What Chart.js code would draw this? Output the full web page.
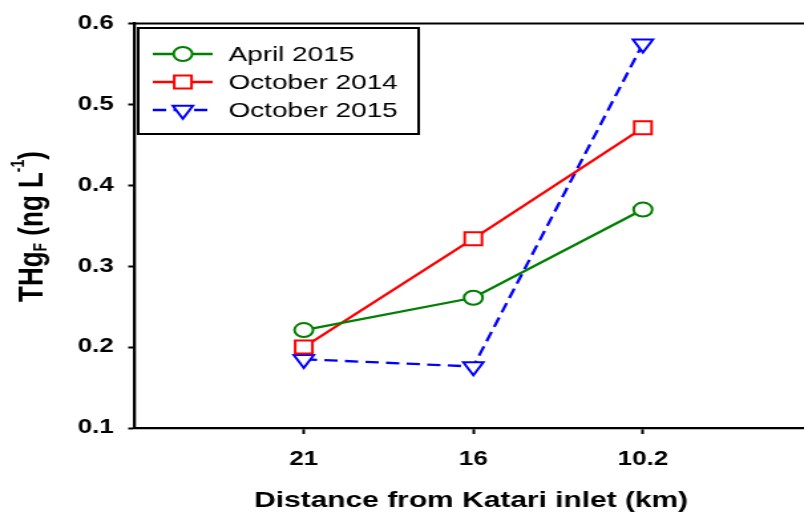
<!DOCTYPE html>
<html lang="en">

<head>
    <meta charset="UTF-8">
    <title>THgF along the Katari inlet</title>
    <script src="https://cdn.jsdelivr.net/npm/chart.js@4.4.0/dist/chart.umd.min.js"></script>
    <style>
        * {
            margin: 0;
            padding: 0;
            box-sizing: border-box;
        }

        body {
            background: white;
            overflow: hidden;
        }

        #thgChart {
            display: block;
        }
    </style>
</head>

<body>
    <!-- the source figure is stretched sideways, so the canvas is drawn 605 wide and shown 804 wide -->
    <canvas id="thgChart" width="605" height="513" style="width: 804px; height: 513px;"></canvas>

    <script>
        // Data
        const categories = ['21', '16', '10.2'];
        const xPositions = [1, 2, 3];
        const april2015 = [0.221, 0.261, 0.370];
        const october2014 = [0.200, 0.334, 0.471];
        const october2015 = [0.185, 0.176, 0.575];
        const yTicks = [0.1, 0.2, 0.3, 0.4, 0.5, 0.6];
        const yTickLabels = ['0.1', '0.2', '0.3', '0.4', '0.5', '0.6'];

        const FONT = "'Liberation Sans', Arial, Helvetica, sans-serif";

        function toPoints(values) {
            return values.map((v, i) => ({ x: xPositions[i], y: v }));
        }

        // Marker drawing for the legend (same shapes as the chart points)
        function drawMarker(ctx, style, x, y, r) {
            ctx.beginPath();
            if (style === 'circle') {
                ctx.arc(x, y, r, 0, Math.PI * 2);
            } else if (style === 'rect') {
                const s = r * Math.SQRT1_2;
                ctx.rect(x - s, y - s, 2 * s, 2 * s);
            } else {
                // triangle pointing down
                const w = r * Math.sin(Math.PI / 3);
                ctx.moveTo(x, y + r);
                ctx.lineTo(x - w, y - r / 2);
                ctx.lineTo(x + w, y - r / 2);
                ctx.closePath();
            }
            ctx.fill();
            ctx.stroke();
        }

        // Frame top line, boxed legend and axis titles
        const extrasPlugin = {
            id: 'extras',
            afterDraw(chart) {
                const ctx = chart.ctx;
                const area = chart.chartArea;
                ctx.save();

                // top frame line
                ctx.strokeStyle = '#000';
                ctx.lineWidth = 2;
                ctx.beginPath();
                ctx.moveTo(area.left, area.top);
                ctx.lineTo(area.right, area.top);
                ctx.stroke();

                // legend box
                const box = { left: 104, top: 28, right: 315, bottom: 134 };
                ctx.fillStyle = '#fff';
                ctx.fillRect(box.left, box.top, box.right - box.left, box.bottom - box.top);
                ctx.lineWidth = 2;
                ctx.strokeRect(box.left, box.top, box.right - box.left, box.bottom - box.top);

                const rows = [54, 82, 110];
                chart.data.datasets.forEach((ds, i) => {
                    const y = rows[i];
                    ctx.strokeStyle = ds.borderColor;
                    ctx.lineWidth = ds.borderWidth;
                    ctx.setLineDash(ds.borderDash || []);
                    ctx.beginPath();
                    ctx.moveTo(115, y);
                    ctx.lineTo(160, y);
                    ctx.stroke();
                    ctx.setLineDash([]);
                    ctx.fillStyle = '#fff';
                    ctx.lineWidth = ds.pointBorderWidth;
                    drawMarker(ctx, ds.pointStyle, 137.6, y, ds.pointRadius);

                    ctx.fillStyle = '#000';
                    ctx.font = '21px ' + FONT;
                    ctx.textAlign = 'left';
                    ctx.textBaseline = 'middle';
                    ctx.fillText(ds.label, 172, y + 1);
                });

                // x axis title
                ctx.fillStyle = '#000';
                ctx.font = 'bold 22.5px ' + FONT;
                ctx.textAlign = 'center';
                ctx.textBaseline = 'alphabetic';
                ctx.fillText('Distance from Katari inlet (km)', 354.5, 506.5);

                // y axis title with subscript and superscript
                const parts = [
                    { t: 'THg', size: 26, dy: 0 },
                    { t: 'F', size: 14, dy: 3 },
                    { t: ' (ng L', size: 26, dy: 0 },
                    { t: '-1', size: 14, dy: -14 },
                    { t: ')', size: 26, dy: 0 }
                ];
                let total = 0;
                parts.forEach(p => {
                    ctx.font = 'bold ' + p.size + 'px ' + FONT;
                    p.w = ctx.measureText(p.t).width;
                    total += p.w;
                });
                ctx.translate(31.5, 226.5);
                ctx.rotate(-Math.PI / 2);
                ctx.textAlign = 'left';
                let cx = -total / 2;
                parts.forEach(p => {
                    ctx.font = 'bold ' + p.size + 'px ' + FONT;
                    ctx.fillText(p.t, cx, p.dy);
                    cx += p.w;
                });

                ctx.restore();
            }
        };

        function initializeChart() {
            const ctx = document.getElementById('thgChart').getContext('2d');
            new Chart(ctx, {
                type: 'line',
                data: {
                    datasets: [
                        {
                            label: 'April 2015',
                            data: toPoints(april2015),
                            borderColor: '#008000',
                            borderWidth: 2.3,
                            pointStyle: 'circle',
                            pointRadius: 7,
                            pointBorderWidth: 2,
                            pointBackgroundColor: '#fff',
                            pointBorderColor: '#008000'
                        },
                        {
                            label: 'October 2014',
                            data: toPoints(october2014),
                            borderColor: '#ff0000',
                            borderWidth: 2.3,
                            pointStyle: 'rect',
                            pointRadius: 9.2,
                            pointBorderWidth: 2,
                            pointBackgroundColor: '#fff',
                            pointBorderColor: '#ff0000'
                        },
                        {
                            label: 'October 2015',
                            data: toPoints(october2015),
                            borderColor: '#0000ff',
                            borderWidth: 2.3,
                            borderDash: [10, 5.5],
                            pointStyle: 'triangle',
                            pointRotation: 180,
                            pointRadius: 8.7,
                            pointBorderWidth: 2,
                            pointBackgroundColor: '#fff',
                            pointBorderColor: '#0000ff'
                        }
                    ]
                },
                options: {
                    responsive: false,
                    animation: false,
                    devicePixelRatio: 1,
                    layout: {
                        autoPadding: false,
                        padding: { top: 23.5, right: 0, bottom: 0, left: 0 }
                    },
                    plugins: {
                        legend: { display: false },
                        tooltip: { enabled: false }
                    },
                    scales: {
                        x: {
                            type: 'linear',
                            min: 0,
                            max: 3.95,
                            afterBuildTicks: scale => {
                                scale.ticks = xPositions.map(v => ({ value: v }));
                            },
                            afterFit: scale => {
                                scale.height = 85;
                                // the axis runs to the canvas edge, no label padding
                                scale.paddingLeft = 0;
                                scale.paddingRight = 0;
                            },
                            ticks: {
                                callback: value => categories[xPositions.indexOf(value)],
                                font: { family: FONT, size: 19.5, weight: 'bold' },
                                color: '#000',
                                padding: 14,
                                maxRotation: 0
                            },
                            grid: {
                                drawOnChartArea: false,
                                tickLength: 6,
                                tickWidth: 2,
                                tickColor: '#000'
                            },
                            border: { color: '#000', width: 2.3 }
                        },
                        y: {
                            min: 0.1,
                            max: 0.6,
                            afterBuildTicks: scale => {
                                scale.ticks = yTicks.map(v => ({ value: v }));
                            },
                            afterFit: scale => {
                                scale.width = 101;
                            },
                            ticks: {
                                callback: value => yTickLabels[yTicks.indexOf(value)],
                                font: { family: FONT, size: 19.5, weight: 'bold' },
                                color: '#000',
                                padding: 11
                            },
                            grid: {
                                drawOnChartArea: false,
                                tickLength: 4.5,
                                tickWidth: 2,
                                tickColor: '#000'
                            },
                            border: { color: '#000', width: 2.3 }
                        }
                    }
                },
                plugins: [extrasPlugin]
            });
        }

        document.addEventListener('DOMContentLoaded', initializeChart);
    </script>
</body>

</html>
